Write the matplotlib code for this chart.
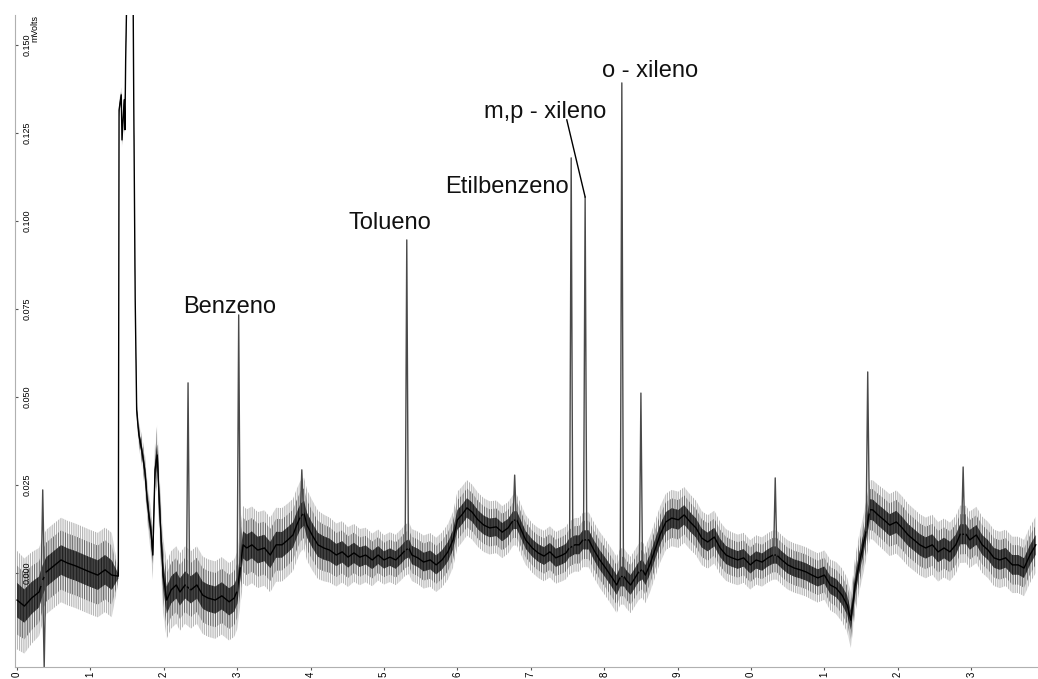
import matplotlib
matplotlib.use("Agg")
import matplotlib.pyplot as plt
import numpy as np

plt.rcParams['font.family'] = ['Liberation Sans', 'DejaVu Sans']
plt.rcParams['hatch.linewidth'] = 0.6

# baseline trace (minutes, mVolts)
base_t = [0.00, 0.10, 0.20, 0.30, 0.35, 0.40, 0.50, 0.60, 0.69, 0.80, 0.90, 0.99,
          1.10, 1.20, 1.29, 1.38, 1.39, 1.42, 1.43, 1.46, 1.47, 1.48, 1.50, 1.58,
          1.59, 1.61, 1.63, 1.66, 1.70, 1.74, 1.78, 1.83, 1.85, 1.88, 1.91, 1.95,
          1.99, 2.04, 2.10, 2.17, 2.22, 2.29, 2.37, 2.45, 2.53, 2.60, 2.70, 2.79,
          2.89, 2.96, 3.00, 3.08, 3.13, 3.20, 3.28, 3.37, 3.45, 3.53, 3.61, 3.69,
          3.76, 3.81, 3.86, 3.91, 3.95, 4.02, 4.10, 4.18, 4.26, 4.35, 4.43, 4.51,
          4.59, 4.67, 4.75, 4.84, 4.92, 5.00, 5.08, 5.16, 5.23, 5.29, 5.34, 5.38,
          5.46, 5.54, 5.63, 5.71, 5.79, 5.87, 5.94, 6.00, 6.06, 6.13, 6.20, 6.28,
          6.36, 6.44, 6.53, 6.61, 6.69, 6.76, 6.81, 6.87, 6.93, 7.02, 7.10, 7.18,
          7.26, 7.34, 7.43, 7.48, 7.52, 7.60, 7.66, 7.71, 7.79, 7.86, 7.94, 8.02,
          8.11, 8.17, 8.22, 8.27, 8.30, 8.36, 8.42, 8.47, 8.52, 8.56, 8.62, 8.69,
          8.76, 8.84, 8.92, 9.01, 9.09, 9.17, 9.25, 9.33, 9.41, 9.50, 9.58, 9.66,
          9.74, 9.82, 9.90, 9.99, 10.07, 10.15, 10.23, 10.30, 10.35, 10.42, 10.50, 10.59,
          10.67, 10.75, 10.83, 10.91, 11.00, 11.08, 11.16, 11.24, 11.31, 11.36, 11.42, 11.47,
          11.53, 11.57, 11.62, 11.66, 11.73, 11.81, 11.89, 11.98, 12.06, 12.14, 12.22, 12.30,
          12.38, 12.47, 12.55, 12.63, 12.71, 12.79, 12.85, 12.93, 12.98, 13.07, 13.15, 13.23,
          13.31, 13.39, 13.47, 13.56, 13.64, 13.72, 13.80, 13.88]
base_v = [-0.0077, -0.0094, -0.0071, -0.0054, -0.0020, 0.0003, 0.0020, 0.0037, 0.0028, 0.0020, 0.0011, 0.0003,
          -0.0006, 0.0009, -0.0006, -0.0009, 0.1315, 0.1358, 0.1230, 0.1344, 0.1259, 0.1457, 0.1700, 0.1700,
          0.1344, 0.0776, 0.0463, 0.0392, 0.0349, 0.0293, 0.0193, 0.0108, 0.0051, 0.0293, 0.0335, 0.0151,
          -0.0006, -0.0077, -0.0048, -0.0034, -0.0054, -0.0034, -0.0048, -0.0034, -0.0063, -0.0071, -0.0077, -0.0065,
          -0.0082, -0.0071, -0.0050, 0.0080, 0.0071, 0.0080, 0.0065, 0.0071, 0.0051, 0.0080, 0.0080, 0.0094,
          0.0108, 0.0136, 0.0160, 0.0170, 0.0136, 0.0108, 0.0080, 0.0071, 0.0065, 0.0051, 0.0060, 0.0045,
          0.0057, 0.0045, 0.0051, 0.0037, 0.0051, 0.0037, 0.0045, 0.0037, 0.0051, 0.0065, 0.0070, 0.0051,
          0.0043, 0.0031, 0.0037, 0.0023, 0.0037, 0.0060, 0.0094, 0.0151, 0.0165, 0.0185, 0.0173, 0.0151,
          0.0136, 0.0128, 0.0131, 0.0116, 0.0128, 0.0150, 0.0150, 0.0122, 0.0094, 0.0071, 0.0057, 0.0048,
          0.0060, 0.0043, 0.0051, 0.0057, 0.0070, 0.0080, 0.0080, 0.0094, 0.0094, 0.0065, 0.0037, 0.0014,
          -0.0014, -0.0034, -0.0010, -0.0010, -0.0020, -0.0034, -0.0014, 0.0003, 0.0010, -0.0006, 0.0023, 0.0065,
          0.0108, 0.0145, 0.0156, 0.0151, 0.0165, 0.0145, 0.0128, 0.0099, 0.0088, 0.0102, 0.0071, 0.0051,
          0.0043, 0.0037, 0.0043, 0.0023, 0.0037, 0.0031, 0.0043, 0.0051, 0.0051, 0.0037, 0.0023, 0.0014,
          0.0009, 0.0003, -0.0006, -0.0014, -0.0006, -0.0034, -0.0043, -0.0063, -0.0091, -0.0134, -0.0034, 0.0023,
          0.0080, 0.0122, 0.0180, 0.0179, 0.0165, 0.0151, 0.0136, 0.0145, 0.0128, 0.0108, 0.0094, 0.0080,
          0.0071, 0.0080, 0.0060, 0.0071, 0.0060, 0.0080, 0.0110, 0.0110, 0.0094, 0.0108, 0.0080, 0.0065,
          0.0043, 0.0037, 0.0043, 0.0023, 0.0023, 0.0014, 0.0051, 0.0080]

# noise half-amplitude along the run
noise_t = [0.0, 0.4, 1.3, 1.38, 1.63, 1.85, 2.0, 3.0, 3.1, 4.0, 5.0, 6.0, 7.0, 8.0, 9.0, 10.0, 11.0, 11.4, 12.0, 13.0, 13.9]
noise_a = [0.014, 0.012, 0.012, 0.002, 0.003, 0.007, 0.011, 0.011, 0.011, 0.010, 0.007, 0.008, 0.007, 0.008, 0.008,
           0.007, 0.007, 0.008, 0.009, 0.008, 0.008]

# sharp peaks: retention time (min) and apex (mVolts)
peak_t = [0.35, 0.37, 2.33, 3.02, 3.88, 5.31, 6.78, 7.55, 7.74, 8.24, 8.50, 10.33, 11.59, 12.89]
peak_h = [0.0236, -0.0270, 0.0540, 0.0733, 0.0293, 0.0946, 0.0278, 0.1179, 0.1068, 0.1392, 0.0511, 0.0270, 0.0571, 0.0301]

labels = ['Benzeno', 'Tolueno', 'Etilbenzeno', 'm,p - xileno', 'o - xileno']
x_ticks = list(range(14))
x_ticklabels = [str(i % 10) for i in x_ticks]
y_ticks = [0.000, 0.025, 0.050, 0.075, 0.100, 0.125, 0.150]

fig = plt.figure(figsize=(10.38, 6.79), dpi=100)
ax = fig.add_axes([0.0145, 0.0177, 0.9855, 0.9603])

t = np.array(base_t)
v = np.array(base_v)
amp = np.interp(t, noise_t, noise_a)

ax.fill_between(t, v - amp, v + amp, facecolor='none', edgecolor='#a8a8a8',
                hatch='|||||||||', linewidth=0)
ax.fill_between(t, v - amp * 0.7, v + amp * 0.7, facecolor='none', edgecolor='#5a5a5a',
                hatch='|||||||', linewidth=0)
ax.fill_between(t, v - amp * 0.35, v + amp * 0.35, facecolor='#2a2a2a', edgecolor='#111111',
                hatch='||||||', linewidth=0, alpha=0.8)
ax.plot(t, v, color='black', lw=1.0)

for pt, ph in zip(peak_t, peak_h):
    w = 0.022
    foot = np.interp([pt - w, pt + w], t, v)
    ax.plot([pt - w, pt, pt + w], [foot[0], ph, foot[1]], color='#4a4a4a', lw=1.0)

ax.set_xlim(-0.027, 13.91)
ax.set_ylim(-0.0267, 0.1585)

txt = dict(fontsize=17, ha='center', va='center', color='#111111')
ax.text(2.89, 0.0756, labels[0], **txt)
ax.text(5.08, 0.0994, labels[1], **txt)
ax.text(6.68, 0.1097, labels[2], **txt)
ax.text(7.19, 0.1310, labels[3], **txt)
ax.text(8.62, 0.1426, labels[4], **txt)
ax.plot([7.49, 7.74], [0.1287, 0.1068], color='black', lw=1.0)

for s in ['top', 'right']:
    ax.spines[s].set_visible(False)
for s in ['left', 'bottom']:
    ax.spines[s].set_color('#b0b0b0')
    ax.spines[s].set_linewidth(0.8)

ax.set_xticks(x_ticks)
ax.set_xticklabels(x_ticklabels, rotation=90, fontsize=7)
ax.set_yticks(y_ticks)
ax.set_yticklabels(['%.3f' % y for y in y_ticks], rotation=90, fontsize=6.5, va='center')
ax.tick_params(axis='x', length=2, width=0.8, color='#555555', pad=1)
ax.tick_params(axis='y', direction='in', length=2, width=0.8, color='#555555', pad=-12)
ax.text(0.25, 0.1585, 'mVolts', fontsize=6.5, rotation=90, ha='center', va='top')

fig.savefig('out.png', dpi=100)
